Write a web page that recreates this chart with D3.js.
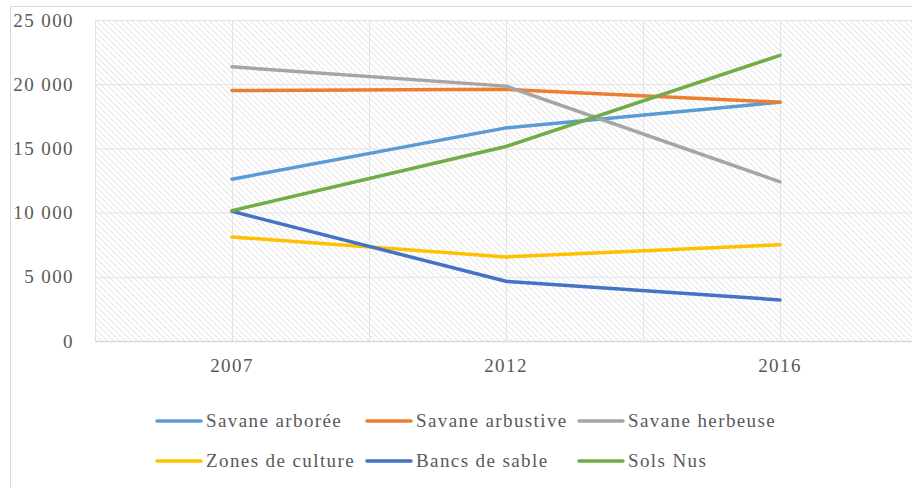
<!DOCTYPE html>
<html>
<head>
<meta charset="utf-8">
<script src="https://cdn.jsdelivr.net/npm/d3@7"></script>
<style>
  body { margin: 0; background: #fff; }
  svg text { font-family: "Liberation Serif", "Times New Roman", serif; fill: #595959; font-size: 19px; letter-spacing: 1.4px; }
</style>
</head>
<body>
<div id="chart"></div>
<script>
var years = ["2007", "2012", "2016"];
var seriesNames = ["Savane arborée", "Savane arbustive", "Savane herbeuse", "Zones de culture", "Bancs de sable", "Sols Nus"];
var savaneArboree = [12600, 16600, 18600];
var savaneArbustive = [19500, 19600, 18600];
var savaneHerbeuse = [21350, 19850, 12400];
var zonesCulture = [8100, 6550, 7500];
var bancsSable = [10100, 4650, 3200];
var solsNus = [10150, 15150, 22250];
var yTicks = [0, 5000, 10000, 15000, 20000, 25000];
var colors = ["#5b9bd5", "#ed7d31", "#a5a5a5", "#ffc000", "#4472c4", "#70ad47"];

var allSeries = [savaneArboree, savaneArbustive, savaneHerbeuse, zonesCulture, bancsSable, solsNus];

var W = 912, H = 488;
var margin = { top: 20, left: 95, right: -5, bottom: 147 },
    width = W - margin.left - margin.right,
    height = H - margin.top - margin.bottom;

var svg = d3.select("#chart").append("svg")
  .attr("width", W).attr("height", H);

var defs = svg.append("defs");
var pat = defs.append("pattern")
  .attr("id", "hatch")
  .attr("patternUnits", "userSpaceOnUse")
  .attr("width", 4.2).attr("height", 4.2)
  .attr("patternTransform", "rotate(-45)");
pat.append("rect").attr("width", 4.2).attr("height", 4.2).attr("fill", "#fff");
pat.append("line").attr("x1", 0).attr("y1", 0).attr("x2", 0).attr("y2", 4.2)
  .attr("stroke", "#d6d6d6").attr("stroke-width", 1.2);

// outer chart border
svg.append("rect").attr("x", 10.5).attr("y", 6.5).attr("width", W).attr("height", H)
  .attr("fill", "none").attr("stroke", "#d9d9d9");

var g = svg.append("g").attr("transform", "translate(" + margin.left + "," + margin.top + ")");

var x = d3.scaleBand().domain(years).range([0, width]);
var y = d3.scaleLinear().domain([0, 25000]).range([height, 0]);

g.append("rect").attr("width", width).attr("height", height).attr("fill", "url(#hatch)");

// gridlines
g.selectAll(".hgrid").data(yTicks).enter().append("line")
  .attr("x1", 0).attr("x2", width)
  .attr("y1", function(d){ return y(d) + 0.5; }).attr("y2", function(d){ return y(d) + 0.5; })
  .attr("stroke", "#e3e3e3");

var vx = [];
years.forEach(function(yr){
  vx.push(x(yr));
  vx.push(x(yr) + x.bandwidth() / 2);
});
g.selectAll(".vgrid").data(vx).enter().append("line")
  .attr("x1", function(d){ return Math.round(d) + 0.5; }).attr("x2", function(d){ return Math.round(d) + 0.5; })
  .attr("y1", 0).attr("y2", height)
  .attr("stroke", "#e3e3e3");

g.append("line").attr("x1", 0).attr("x2", width)
  .attr("y1", height + 0.5).attr("y2", height + 0.5)
  .attr("stroke", "#d9d9d9").attr("stroke-width", 1.5);

var fmt = function(d){ return d3.format(",")(d).replace(/,/g, " "); };

var yAxis = g.append("g").call(d3.axisLeft(y).tickValues(yTicks).tickSize(0).tickPadding(21).tickFormat(fmt));
yAxis.attr("font-family", null).attr("font-size", null);
yAxis.select(".domain").remove();
yAxis.selectAll("text").attr("fill", "#595959");

var xAxis = g.append("g").attr("transform", "translate(0," + height + ")")
  .call(d3.axisBottom(x).tickSize(0).tickPadding(18));
xAxis.attr("font-family", null).attr("font-size", null);
xAxis.select(".domain").remove();
xAxis.selectAll("text").attr("fill", "#595959");

var line = d3.line()
  .x(function(d, i){ return x(years[i]) + x.bandwidth() / 2; })
  .y(function(d){ return y(d); });

allSeries.forEach(function(s, i){
  g.append("path").datum(s)
    .attr("d", line)
    .attr("fill", "none")
    .attr("stroke", colors[i])
    .attr("stroke-width", 3.5)
    .attr("stroke-linejoin", "round")
    .attr("stroke-linecap", "round");
});

// legend
var legX = [157, 367, 579], legY = [421, 461];
seriesNames.forEach(function(n, i){
  var lx = legX[i % 3], ly = legY[Math.floor(i / 3)];
  var lg = svg.append("g").attr("transform", "translate(" + lx + "," + ly + ")");
  lg.append("line").attr("x1", 0).attr("x2", 44).attr("y1", 0).attr("y2", 0)
    .attr("stroke", colors[i]).attr("stroke-width", 3.5).attr("stroke-linecap", "round");
  lg.append("text").attr("x", 49).attr("y", 6).text(n);
});
</script>
</body>
</html>
